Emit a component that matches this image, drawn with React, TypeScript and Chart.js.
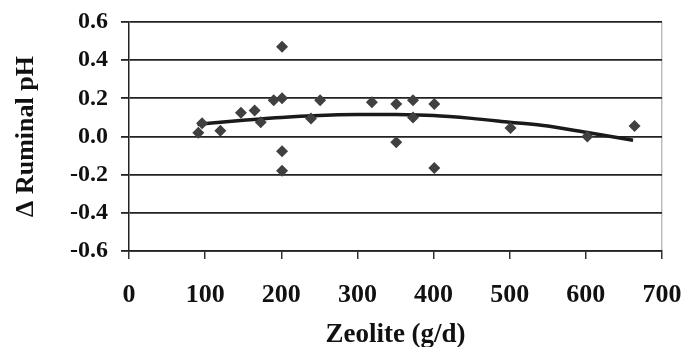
import React, { useEffect, useRef } from "react";
import { Chart, registerables } from "chart.js";

Chart.register(...registerables);

// Observed points (Zeolite g/d, Δ ruminal pH)
const pointX = [91, 96, 120, 147, 165, 173, 190, 201, 201, 201, 201, 239, 251, 319, 351, 351, 373, 373, 401, 401, 501, 602, 664];
const pointY = [0.02, 0.07, 0.03, 0.125, 0.136, 0.075, 0.19, 0.2, 0.47, -0.077, -0.18, 0.094, 0.19, 0.18, 0.17, -0.03, 0.19, 0.1, 0.17, -0.165, 0.045, 0.0, 0.055];

// Fitted trend line
const trendX = [90, 120, 150, 200, 250, 300, 350, 400, 450, 500, 550, 600, 662];
const trendY = [0.063, 0.075, 0.085, 0.1, 0.11, 0.115, 0.115, 0.11, 0.095, 0.075, 0.055, 0.022, -0.02];

const yTicks = [-0.6, -0.4, -0.2, 0, 0.2, 0.4, 0.6];
const xTicks = [0, 100, 200, 300, 400, 500, 600, 700];

const yTitle = "Δ Ruminal pH";
const xTitle = "Zeolite (g/d)";

const FONT = "'Liberation Serif', 'Times New Roman', serif";

export default function App() {
  const ref = useRef<HTMLCanvasElement | null>(null);

  useEffect(() => {
    if (!ref.current) return;
    const chart = new Chart(ref.current, {
      type: "scatter",
      data: {
        datasets: [
          {
            type: "line",
            label: "Trend",
            data: trendX.map((x, i) => ({ x, y: trendY[i] })),
            borderColor: "#1a1a1a",
            borderWidth: 3.5,
            pointRadius: 0,
            tension: 0.3,
            fill: false,
            order: 1,
          } as any,
          {
            label: "Observed",
            data: pointX.map((x, i) => ({ x, y: pointY[i] })),
            pointStyle: "rectRot",
            pointRadius: 6,
            pointBorderWidth: 0,
            backgroundColor: "#404040",
            borderColor: "#404040",
            order: 0,
          },
        ],
      },
      options: {
        responsive: false,
        animation: false,
        layout: { padding: { top: 22, right: 23, left: 0, bottom: 0 } },
        plugins: {
          legend: { display: false },
          tooltip: { enabled: false },
        },
        scales: {
          x: {
            type: "linear",
            min: 0,
            max: 700,
            afterBuildTicks: (s: any) => {
              s.ticks = xTicks.map((v) => ({ value: v }));
            },
            afterFit: (s: any) => {
              s.height = 96;
              s.paddingLeft = 0;
              s.paddingRight = 0;
            },
            ticks: {
              color: "#111",
              padding: 21,
              font: { family: FONT, size: 26, weight: "bold" },
              maxRotation: 0,
            },
            grid: {
              drawOnChartArea: true,
              color: (c: any) => (c.tick && c.tick.value === 700 ? "#bdbdbd" : "rgba(0,0,0,0)"),
              tickColor: "#333",
              tickLength: 8,
              lineWidth: 1.5,
            },
            border: { display: true, color: "#222", width: 1.5 },
            title: {
              display: true,
              text: xTitle,
              color: "#111",
              font: { family: FONT, size: 27, weight: "bold" },
              padding: { top: 0, bottom: -4 },
            },
          },
          y: {
            type: "linear",
            min: -0.6,
            max: 0.6,
            afterBuildTicks: (s: any) => {
              s.ticks = yTicks.map((v) => ({ value: v }));
            },
            afterFit: (s: any) => {
              s.width = 129;
              s.paddingTop = 0;
              s.paddingBottom = 0;
            },
            ticks: {
              color: "#111",
              padding: 13,
              font: { family: FONT, size: 24, weight: "bold" },
              callback: (v: any) => (Math.abs(Number(v)) < 1e-9 ? "0.0" : Number(v).toFixed(1)),
            },
            grid: {
              color: "#222",
              lineWidth: 1.8,
              tickLength: 8,
              tickColor: "#222",
            },
            border: { display: true, color: "#222", width: 1.5 },
            title: {
              display: true,
              text: yTitle,
              color: "#111",
              font: { family: FONT, size: 26, weight: "bold" },
              padding: { top: 11, bottom: 0 },
            },
          },
        },
      },
    });
    return () => chart.destroy();
  }, []);

  return (
    <div style={{ position: "fixed", left: 0, top: 0, width: 685, height: 347, background: "#fff" }}>
      <canvas ref={ref} width={685} height={347} style={{ width: 685, height: 347, display: "block" }} />
    </div>
  );
}
